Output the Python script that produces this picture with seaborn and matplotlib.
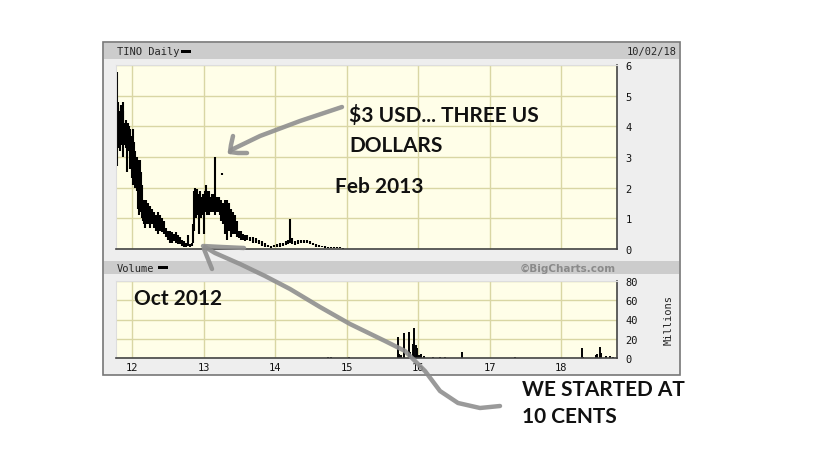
import numpy as np
import pandas as pd
import matplotlib
matplotlib.use("Agg")
import matplotlib.pyplot as plt
from matplotlib.patches import Rectangle
from matplotlib.lines import Line2D
import seaborn as sns

# ---------------- data ----------------
price_dates = [11.79, 11.80, 11.81, 11.83, 11.84, 11.86, 11.87, 11.88, 11.90, 11.91,
               11.93, 11.94, 11.96, 11.97, 11.99, 12.00, 12.01, 12.03, 12.04, 12.06,
               12.07, 12.08, 12.10, 12.11, 12.13, 12.14, 12.15, 12.17, 12.18, 12.20,
               12.21, 12.22, 12.25, 12.28, 12.31, 12.34, 12.36, 12.39, 12.42, 12.45,
               12.48, 12.50, 12.53, 12.56, 12.59, 12.62, 12.64, 12.67, 12.70, 12.73,
               12.76, 12.78, 12.81, 12.84, 12.85, 12.87, 12.88, 12.90, 12.91, 12.92,
               12.94, 12.95, 12.97, 12.98, 12.99, 13.01, 13.02, 13.04, 13.05, 13.06,
               13.08, 13.09, 13.11, 13.12, 13.13, 13.15, 13.16, 13.18, 13.19, 13.20,
               13.22, 13.23, 13.25, 13.255, 13.27, 13.30, 13.33, 13.36, 13.39, 13.41,
               13.44, 13.47, 13.50, 13.53, 13.55, 13.58, 13.61, 13.65, 13.69, 13.73,
               13.78, 13.82, 13.86, 13.90, 13.94, 13.99, 14.03, 14.07, 14.11, 14.15,
               14.18, 14.21, 14.24, 14.28, 14.32, 14.36, 14.41, 14.45, 14.49, 14.53,
               14.57, 14.62, 14.66, 14.70, 14.74, 14.78, 14.83, 14.87, 14.91, 14.95]
price_high = [5.77, 4.60, 4.80, 4.50, 4.70, 4.60, 4.80, 4.50, 4.10, 4.20,
              4.00, 4.10, 4.00, 3.90, 3.70, 3.60, 3.90, 3.50, 3.20, 2.90,
              3.00, 2.90, 2.80, 2.90, 2.50, 2.10, 1.60, 1.60, 1.50, 1.60,
              1.40, 1.50, 1.40, 1.30, 1.20, 1.10, 1.20, 1.10, 1.00, 0.90,
              0.70, 0.60, 0.60, 0.55, 0.50, 0.55, 0.45, 0.40, 0.30, 0.25,
              0.20, 0.45, 0.15, 0.20, 0.80, 1.90, 2.00, 1.70, 1.95, 1.80,
              1.60, 1.90, 1.70, 1.50, 1.80, 1.60, 1.90, 2.10, 1.90, 1.80,
              1.90, 1.70, 1.60, 1.80, 1.70, 1.80, 3.00, 1.60, 1.70, 1.60,
              1.70, 1.50, 1.60, 2.47, 1.50, 1.60, 1.60, 1.50, 1.30, 1.20,
              1.10, 0.90, 0.60, 0.60, 0.50, 0.45, 0.45, 0.40, 0.40, 0.35,
              0.30, 0.25, 0.20, 0.12, 0.10, 0.12, 0.15, 0.18, 0.20, 0.25,
              0.30, 0.98, 0.35, 0.25, 0.28, 0.30, 0.30, 0.28, 0.25, 0.20,
              0.15, 0.12, 0.10, 0.10, 0.08, 0.08, 0.06, 0.05, 0.05, 0.03]
price_low = [2.70, 3.30, 3.50, 3.20, 3.60, 3.40, 3.50, 3.00, 3.40, 3.30,
             2.50, 3.20, 3.30, 2.60, 2.80, 2.30, 2.10, 2.40, 2.00, 2.10,
             1.90, 1.30, 1.10, 1.20, 1.30, 1.00, 0.90, 0.80, 0.70, 0.80,
             0.90, 0.80, 0.70, 0.80, 0.70, 0.60, 0.50, 0.60, 0.55, 0.50,
             0.40, 0.30, 0.20, 0.20, 0.25, 0.20, 0.15, 0.15, 0.10, 0.08,
             0.07, 0.10, 0.08, 0.10, 0.20, 0.60, 1.10, 1.00, 1.20, 1.10,
             0.50, 1.20, 1.00, 1.10, 1.30, 0.50, 1.20, 1.30, 1.10, 1.30,
             1.10, 1.30, 1.20, 1.20, 1.30, 1.20, 1.10, 1.20, 1.30, 1.20,
             1.20, 1.10, 0.90, 2.42, 0.80, 0.50, 0.30, 0.60, 0.40, 0.50,
             0.50, 0.40, 0.35, 0.30, 0.30, 0.25, 0.30, 0.25, 0.20, 0.20,
             0.15, 0.10, 0.08, 0.05, 0.04, 0.05, 0.06, 0.08, 0.10, 0.12,
             0.15, 0.20, 0.15, 0.12, 0.15, 0.18, 0.20, 0.18, 0.15, 0.12,
             0.08, 0.06, 0.05, 0.04, 0.03, 0.03, 0.02, 0.02, 0.02, 0.01]

vol_dates = [14.74, 14.78, 15.03, 15.72, 15.73, 15.76, 15.81, 15.87, 15.88, 15.89,
             15.93, 15.95, 15.97, 15.98, 16.01, 16.04, 16.08, 16.21, 16.31, 16.38,
             16.61, 17.36, 18.29, 18.31, 18.49, 18.51, 18.54, 18.56, 18.63, 18.69,
             18.73]
vol_millions = [1.5, 1.0, 1.0, 21.5, 4.0, 3.0, 26.0, 5.0, 27.0, 6.0,
                14.5, 31.0, 13.0, 10.0, 3.0, 4.5, 2.0, 1.5, 1.0, 1.0,
                6.5, 0.8, 10.4, 1.5, 3.0, 4.0, 11.7, 5.0, 2.0, 2.0,
                1.5]

year_ticks = [12, 13, 14, 15, 16, 17, 18]
year_labels = ["12", "13", "14", "15", "16", "17", "18"]
price_ticks = [0, 1, 2, 3, 4, 5, 6]
vol_ticks = [0, 20, 40, 60, 80]

# long-form tables: each bar is one "unit" drawn from low to high
price_df = pd.DataFrame({
    "date": price_dates + price_dates,
    "price": price_low + price_high,
    "bar": list(range(len(price_dates))) * 2,
})
vol_df = pd.DataFrame({
    "date": vol_dates + vol_dates,
    "vol": [0.0] * len(vol_dates) + vol_millions,
    "bar": list(range(len(vol_dates))) * 2,
})

# ---------------- styling ----------------
sns.set_style("white")
plt.rcParams["font.family"] = ["DejaVu Sans"]
plt.rcParams["lines.solid_capstyle"] = "butt"

W, H = 819, 460
fig = plt.figure(figsize=(W / 100, H / 100), dpi=100)
fig.patch.set_facecolor("white")

def fx(x):
    return x / W

def fy(y):
    return 1 - y / H

BOX_BG = "#eeeeee"
BAR_BG = "#cccccc"
PLOT_BG = "#fffee8"
GRID = "#d9d6a4"
MONO = "DejaVu Sans Mono"

# outer chart box and header bars (behind the axes)
fig.patches.append(Rectangle((fx(103), fy(376)), fx(680) - fx(103), fy(43) - fy(376),
                             transform=fig.transFigure, facecolor=BOX_BG,
                             edgecolor="#777777", lw=1.2, zorder=-3))
fig.patches.append(Rectangle((fx(104), fy(60)), fx(679) - fx(104), fy(44) - fy(60),
                             transform=fig.transFigure, facecolor=BAR_BG,
                             edgecolor="none", zorder=-2))
fig.patches.append(Rectangle((fx(104), fy(275)), fx(679) - fx(104), fy(262) - fy(275),
                             transform=fig.transFigure, facecolor=BAR_BG,
                             edgecolor="none", zorder=-2))

XMIN, XMAX = 11.776, 18.783

ax_p = fig.add_axes([fx(116), fy(250), fx(617) - fx(116), fy(66) - fy(250)])
ax_v = fig.add_axes([fx(116), fy(359), fx(617) - fx(116), fy(282) - fy(359)])

for ax in (ax_p, ax_v):
    ax.set_zorder(1)
    ax.set_facecolor(PLOT_BG)
    ax.grid(True, color=GRID, lw=1.0)
    ax.set_axisbelow(True)
    ax.yaxis.tick_right()
    ax.tick_params(axis="both", length=0, labelsize=7.5, colors="#111111", pad=6)
    for s in ("top", "left"):
        ax.spines[s].set_color("#dddddd")
        ax.spines[s].set_linewidth(0.8)
    for s in ("bottom", "right"):
        ax.spines[s].set_color("#444444")
        ax.spines[s].set_linewidth(1.2)

sns.lineplot(data=price_df, x="date", y="price", units="bar", estimator=None,
             color="black", lw=1.5, ax=ax_p, legend=False, sort=False,
             solid_capstyle="butt")
ax_p.set_xlim(XMIN, XMAX)
ax_p.set_ylim(0, 6)
ax_p.set_yticks(price_ticks)
ax_p.set_yticklabels([str(t) for t in price_ticks], family=MONO)
ax_p.set_xticks(year_ticks)
ax_p.set_xticklabels([])
ax_p.set_xlabel("")
ax_p.set_ylabel("")

sns.lineplot(data=vol_df, x="date", y="vol", units="bar", estimator=None,
             color="black", lw=1.4, ax=ax_v, legend=False, sort=False,
             solid_capstyle="butt")
ax_v.set_xlim(XMIN, XMAX)
ax_v.set_ylim(0, 80)
ax_v.set_yticks(vol_ticks)
ax_v.set_yticklabels([str(t) for t in vol_ticks], family=MONO)
ax_v.set_xticks(year_ticks)
ax_v.set_xticklabels(year_labels, family=MONO)
ax_v.tick_params(axis="x", pad=3)
ax_v.set_xlabel("")
ax_v.set_ylabel("")

# header texts
fig.text(fx(117), fy(52), "TINO Daily", family=MONO, fontsize=7.5, va="center", ha="left")
fig.patches.append(Rectangle((fx(181), fy(53.5)), fx(10), fy(50.5) - fy(53.5),
                             transform=fig.transFigure, facecolor="black", edgecolor="none"))
fig.text(fx(677), fy(52), "10/02/18", family=MONO, fontsize=7.5, va="center", ha="right")
fig.text(fx(117), fy(268.5), "Volume", family=MONO, fontsize=7.5, va="center", ha="left")
fig.patches.append(Rectangle((fx(158), fy(270)), fx(10), fy(267) - fy(270),
                             transform=fig.transFigure, facecolor="black", edgecolor="none"))
fig.text(fx(616), fy(268.5), "©BigCharts.com", fontsize=7.5, weight="bold",
         color="#8a8a8a", va="center", ha="right")
fig.text(fx(669), fy(320), "Millions", family=MONO, fontsize=7.5, rotation=90,
         va="center", ha="center")

# hand-drawn annotations
ANN = dict(family=["Lato", "DejaVu Sans"], weight="bold", fontsize=15,
           color="#111111", ha="left", va="baseline", zorder=6)
fig.text(fx(349), fy(122), "$3 USD... THREE US", **ANN)
fig.text(fx(349), fy(152), "DOLLARS", **ANN)
fig.text(fx(335), fy(193), "Feb 2013", **ANN)
fig.text(fx(134), fy(305), "Oct 2012", **ANN)
fig.text(fx(522), fy(396), "WE STARTED AT", **ANN)
fig.text(fx(522), fy(423), "10 CENTS", **ANN)

def stroke(pts, lw=3.2):
    xs = [fx(p[0]) for p in pts]
    ys = [fy(p[1]) for p in pts]
    fig.lines.append(Line2D(xs, ys, transform=fig.transFigure, color="#8f8f8f",
                            lw=lw, alpha=0.9, solid_capstyle="round",
                            solid_joinstyle="round", zorder=5))

# arrow to the $3 spike
stroke([(342, 108), (300, 122), (260, 137), (231, 151)])
stroke([(233, 137), (231, 146), (230, 153)])
stroke([(230, 153), (238, 154), (247, 154)])
# arrow from "WE STARTED AT 10 CENTS" to Oct 2012
stroke([(500, 407), (480, 409), (458, 404), (440, 392), (425, 372),
        (405, 352), (385, 342), (350, 325), (320, 308), (290, 290),
        (265, 277), (240, 265), (215, 254), (205, 248)])
stroke([(204, 250), (208, 260), (212, 270)])
stroke([(203, 247), (222, 248), (244, 249)])

fig.savefig("out.png", dpi=100, facecolor="white")
